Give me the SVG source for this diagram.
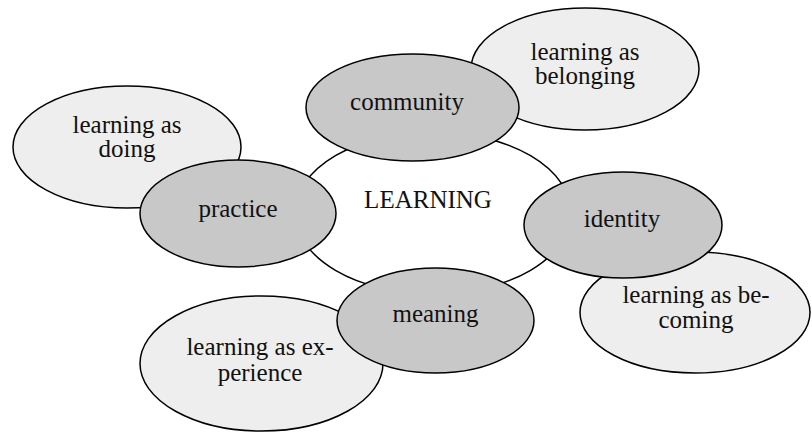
<svg xmlns="http://www.w3.org/2000/svg" width="812" height="432" viewBox="0 0 812 432">
<style>
ellipse{stroke:#000;stroke-width:1.5}
.c{fill:#fff}
.l{fill:#eeeeee}
.d{fill:#c8c8c8}
text{font-family:"Liberation Serif","Times New Roman",serif;font-size:25px;fill:#111;text-anchor:middle}
</style>
<rect width="812" height="432" fill="#fff"/>
<g id="learning">
<ellipse class="c" cx="433" cy="213" rx="138" ry="81"/>
<text x="428" y="208">LEARNING</text>
</g>
<g id="doing">
<ellipse class="l" cx="127" cy="147" rx="114" ry="61"/>
<text x="127" y="132.5">learning as<tspan x="127" dy="24.5">doing</tspan></text>
</g>
<g id="belonging">
<ellipse class="l" cx="585" cy="69" rx="114" ry="61"/>
<text x="585" y="59.5">learning as<tspan x="585" dy="24.5">belonging</tspan></text>
</g>
<g id="becoming">
<ellipse class="l" cx="695" cy="312.5" rx="115" ry="60.5"/>
<text x="696" y="303">learning as be-<tspan x="696" dy="24.5">coming</tspan></text>
</g>
<g id="experience">
<ellipse class="l" cx="261.5" cy="363.5" rx="121.5" ry="67.5"/>
<text x="260" y="355">learning as ex-<tspan x="260" dy="25.5">perience</tspan></text>
</g>
<g id="practice">
<ellipse class="d" cx="238" cy="213.5" rx="98" ry="53.5"/>
<text x="238" y="217">practice</text>
</g>
<g id="community">
<ellipse class="d" cx="412.5" cy="107.5" rx="106.5" ry="53.5"/>
<text x="407" y="110">community</text>
</g>
<g id="identity">
<ellipse class="d" cx="623" cy="225" rx="99" ry="53"/>
<text x="622" y="227">identity</text>
</g>
<g id="meaning">
<ellipse class="d" cx="435.5" cy="320.5" rx="98.5" ry="52.5"/>
<text x="435.5" y="322">meaning</text>
</g>
</svg>
